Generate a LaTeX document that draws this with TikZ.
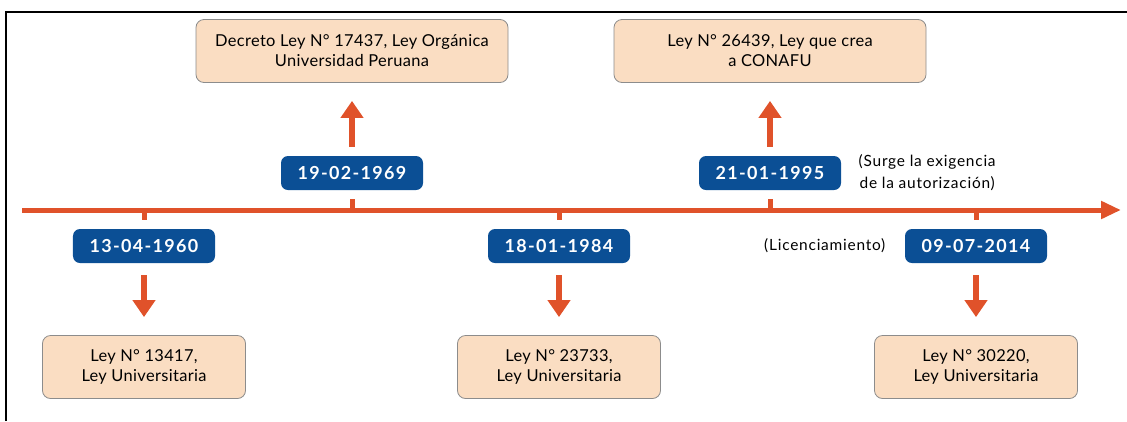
\documentclass[tikz,border=0pt]{standalone}
\usepackage{fontspec}
\setmainfont{Lato}
\newfontfamily\datefont[LetterSpace=7.5]{Lato}
\newfontfamily\lawfont[LetterSpace=2]{Lato}
\newfontfamily\notefont[LetterSpace=5]{Lato}
\usetikzlibrary{arrows.meta,positioning}
\definecolor{lineorange}{HTML}{E0522A}
\definecolor{dateblue}{HTML}{0B4F95}
\definecolor{lawpeach}{HTML}{FADDC2}
\definecolor{lawborder}{HTML}{8C8C8C}
\begin{document}
\begin{tikzpicture}[x=1bp,y=-1bp,
    datebox/.style={fill=dateblue,rounded corners=7bp,minimum width=142bp,minimum height=34bp,inner sep=0pt,text=white,font=\datefont\bfseries\fontsize{18}{20}\selectfont},
    lawbox/.style={fill=lawpeach,draw=lawborder,line width=0.8bp,rounded corners=8bp,minimum height=63bp,inner sep=0pt,align=center,font=\lawfont\fontsize{16.5}{20}\selectfont},
    notetext/.style={align=center,font=\notefont\fontsize{15.5}{22}\selectfont},
    bigarrow/.style={lineorange,line width=6bp,-{Triangle[length=17bp,width=22bp]}},
    tick/.style={lineorange,line width=5bp,shorten >=9bp}]

\def\TOPY{173}
\def\BOTY{246}
	\useasboundingbox (0,0) rectangle (1127,421);
	\draw[line width=1.2bp] (6,421) -- (6,12) -- (1127,12);

	% time axis
	\coordinate (start) at (22,210);
	\coordinate (end) at (1121,210);
	\draw[lineorange,line width=5bp,-{Triangle[length=20bp,width=17bp]}] (start) -- (end);
	\coordinate (t1) at (144,210);
	\coordinate (t2) at (352,210);
	\coordinate (t3) at (559,210);
	\coordinate (t4) at (770,210);
	\coordinate (t5) at (976,210);

	% dates
	\node[datebox] (d1) at (144,\BOTY) {13-04-1960};
	\node[datebox] (d2) at (352,\TOPY) {19-02-1969};
	\node[datebox] (d3) at (559,\BOTY) {18-01-1984};
	\node[datebox] (d4) at (770,\TOPY) {21-01-1995};
	\node[datebox] (d5) at (976,\BOTY) {09-07-2014};
	\draw[tick] (t1) -- (d1);
	\draw[tick] (t2) -- (d2);
	\draw[tick] (t3) -- (d3);
	\draw[tick] (t4) -- (d4);
	\draw[tick] (t5) -- (d5);

	% laws
	\node[lawbox,minimum width=203bp] (law1) at (144,367) {Ley N° 13417,\\Ley Universitaria};
	\node[lawbox,minimum width=312bp] (law2) at (352,51) {Decreto Ley N° 17437, Ley Orgánica\\Universidad Peruana};
	\node[lawbox,minimum width=203bp] (law3) at (559,367) {Ley N° 23733,\\Ley Universitaria};
	\node[lawbox,minimum width=312bp] (law4) at (770,51) {Ley N° 26439, Ley que crea\\a CONAFU};
	\node[lawbox,minimum width=203bp] (law5) at (976,367) {Ley N° 30220,\\Ley Universitaria};
	\draw[bigarrow,shorten <=12bp,shorten >=18bp] (d1) -- (law1);
	\draw[bigarrow,shorten <=9bp,shorten >=18bp] (d2) -- (law2);
	\draw[bigarrow,shorten <=12bp,shorten >=18bp] (d3) -- (law3);
	\draw[bigarrow,shorten <=9bp,shorten >=18bp] (d4) -- (law4);
	\draw[bigarrow,shorten <=12bp,shorten >=18bp] (d5) -- (law5);

	% notes
	\node[notetext,right=14bp of d4] (note1) {(Surge la exigencia\\de la autorización)};
	\node[notetext,left=16bp of d5] (note2) {(Licenciamiento)};

\end{tikzpicture}
\end{document}
